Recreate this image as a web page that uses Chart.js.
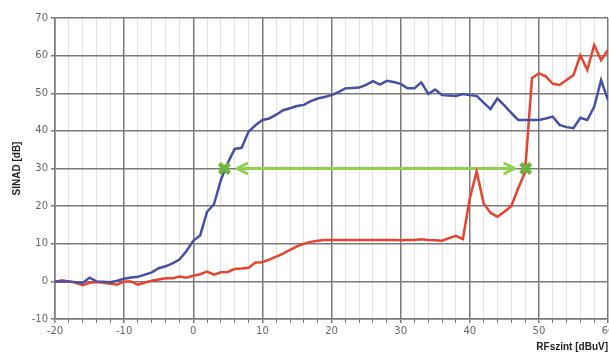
<!DOCTYPE html>
<html>
<head>
<meta charset="utf-8">
<script src="https://cdn.jsdelivr.net/npm/chart.js@4"></script>
<style>
    html, body { margin: 0; padding: 0; background: #fff; overflow: hidden; }
    #wrap { position: relative; width: 640px; height: 355px; }
</style>
</head>
<body>
<div id="wrap"><canvas id="sinadChart"></canvas></div>
<script>
// RF szint (dBuV) értékek
const rfLevels = [];
for (let v = -20; v <= 60; v++) rfLevels.push(v);

// kék görbe
const blueSinad = [
    0, 0, 0, -0.2, -0.4, 1.0, 0, -0.1, -0.2, 0.2,
    0.7, 1.0, 1.2, 1.8, 2.4, 3.5, 4.0, 4.8, 5.8, 8.0,
    10.8, 12.2, 18.5, 20.5, 27.0, 31.5, 35.2, 35.5, 39.8, 41.5,
    42.9, 43.3, 44.3, 45.5, 46.0, 46.6, 46.9, 47.9, 48.6, 49.0,
    49.5, 50.3, 51.3, 51.4, 51.5, 52.2, 53.2, 52.3, 53.3, 53.0,
    52.5, 51.3, 51.3, 52.9, 49.8, 51.0, 49.5, 49.4, 49.3, 49.8,
    49.5, 49.3, 47.5, 45.8, 48.6, 46.8, 44.8, 42.9, 42.9, 42.9,
    42.9, 43.3, 43.8, 41.6, 41.0, 40.7, 43.5, 42.9, 46.4, 53.5,
    48.2
];

// piros görbe
const redSinad = [
    -0.2, 0.3, 0, -0.4, -1.0, -0.4, -0.2, -0.4, -0.6, -0.9,
    0, 0, -0.9, -0.3, 0.2, 0.5, 0.8, 0.8, 1.3, 1.0,
    1.5, 1.9, 2.6, 1.8, 2.4, 2.5, 3.3, 3.4, 3.6, 5.0,
    5.1, 5.8, 6.6, 7.4, 8.4, 9.3, 10.0, 10.5, 10.8, 11.0,
    11.0, 11.0, 11.0, 11.0, 11.0, 11.0, 11.0, 11.0, 11.0, 11.0,
    10.9, 11.0, 11.0, 11.2, 11.0, 10.9, 10.8, 11.5, 12.1, 11.2,
    22.0, 29.2, 20.8, 18.2, 17.2, 18.5, 20.0, 24.7, 29.0, 54.0,
    55.3, 54.5, 52.5, 52.2, 53.5, 54.8, 60.1, 56.2, 62.8, 58.8,
    61.5
];

// zöld nyíl: két végpont és a szint
const markerX = [4.5, 48.1];
const markerY = [30, 30];
const arrowTips = [6.3, 46.5];

const xTicks = [-20, -10, 0, 10, 20, 30, 40, 50, 60];
const yTicks = [-10, 0, 10, 20, 30, 40, 50, 60, 70];

function toPoints(xs, ys) {
    return xs.map((x, i) => ({ x: x, y: ys[i] }));
}

// nyíl rajzolása a skálák segítségével
const arrowPlugin = {
    id: 'arrow',
    beforeDatasetsDraw(chart) {
        const xs = chart.scales.x;
        const ys = chart.scales.y;
        const ctx = chart.ctx;
        const y = ys.getPixelForValue(markerY[0]);
        const x1 = xs.getPixelForValue(arrowTips[0]);
        const x2 = xs.getPixelForValue(arrowTips[1]);
        ctx.save();
        ctx.strokeStyle = '#8fd14f';
        ctx.lineWidth = 3;
        ctx.lineCap = 'round';
        ctx.lineJoin = 'round';
        ctx.beginPath();
        ctx.moveTo(x1, y);
        ctx.lineTo(x2, y);
        ctx.moveTo(x1 + 10, y - 5);
        ctx.lineTo(x1, y);
        ctx.lineTo(x1 + 10, y + 5);
        ctx.moveTo(x2 - 10, y - 5);
        ctx.lineTo(x2, y);
        ctx.lineTo(x2 - 10, y + 5);
        ctx.stroke();
        ctx.restore();
    }
};

const ctx = document.getElementById('sinadChart').getContext('2d');
new Chart(ctx, {
    type: 'line',
    data: {
        datasets: [
            {
                data: toPoints(markerX, markerY),
                showLine: false,
                pointStyle: 'crossRot',
                pointRadius: 7,
                pointBorderWidth: 4.5,
                borderColor: '#6cb33f',
                backgroundColor: '#6cb33f'
            },
            {
                data: toPoints(rfLevels, blueSinad),
                borderColor: '#4450a6',
                borderWidth: 2.5,
                pointRadius: 0,
                tension: 0
            },
            {
                data: toPoints(rfLevels, redSinad),
                borderColor: '#e8432d',
                borderWidth: 2.5,
                pointRadius: 0,
                tension: 0
            }
        ]
    },
    options: {
        responsive: true,
        maintainAspectRatio: false,
        animation: false,
        layout: { padding: { left: 11, right: 32, top: 18, bottom: 2 } },
        plugins: {
            legend: { display: false },
            tooltip: { enabled: false }
        },
        scales: {
            x: {
                type: 'linear',
                min: xTicks[0],
                max: xTicks[xTicks.length - 1],
                ticks: {
                    stepSize: 2,
                    autoSkip: false,
                    maxRotation: 0,
                    color: '#666',
                    font: { family: 'DejaVu Sans', size: 10 },
                    padding: 2,
                    callback: v => xTicks.includes(v) ? v : ''
                },
                grid: {
                    color: c => xTicks.includes(c.tick.value) ? '#7a7a7a' : '#e2e2e2',
                    lineWidth: c => xTicks.includes(c.tick.value) ? 1.5 : 1,
                    tickLength: 4,
                    tickColor: '#7a7a7a'
                },
                border: { color: '#7a7a7a', width: 1.5 },
                title: {
                    display: true,
                    text: 'RFszint [dBuV]',
                    align: 'end',
                    color: '#222',
                    font: { family: 'Liberation Sans', size: 10, weight: 'bold' },
                    padding: { top: 2, bottom: 0 }
                }
            },
            y: {
                min: yTicks[0],
                max: yTicks[yTicks.length - 1],
                ticks: {
                    stepSize: 10,
                    color: '#666',
                    font: { family: 'DejaVu Sans', size: 10 },
                    padding: 3
                },
                grid: {
                    color: '#7a7a7a',
                    lineWidth: 1.5,
                    tickLength: 4
                },
                border: { color: '#7a7a7a', width: 1.5 },
                title: {
                    display: true,
                    text: 'SINAD [dB]',
                    color: '#222',
                    font: { family: 'Liberation Sans', size: 10, weight: 'bold' },
                    padding: { top: 0, bottom: 8 }
                },
                afterFit: scale => { scale.width = 44; }
            }
        }
    },
    plugins: [arrowPlugin]
});
</script>
</body>
</html>
